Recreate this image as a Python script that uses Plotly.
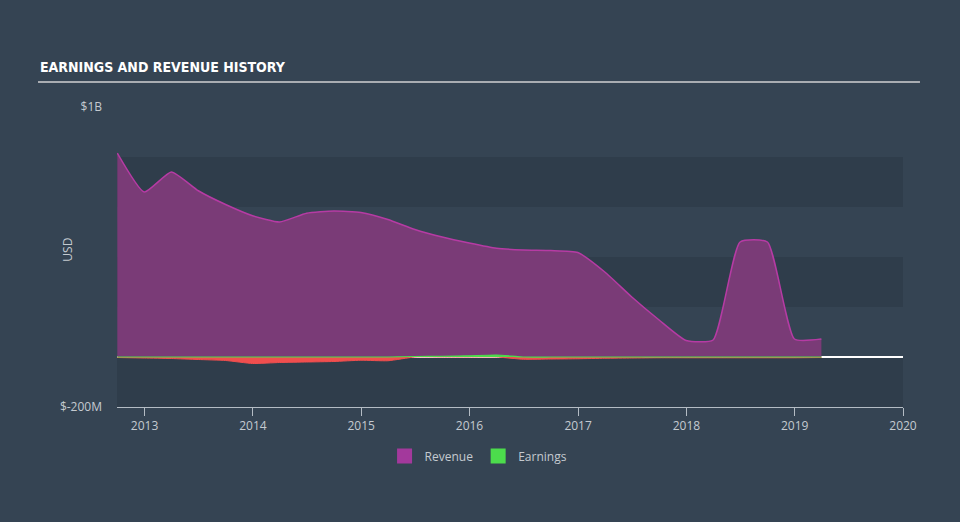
import plotly.graph_objects as go

dates = ["2012-10-01", "2012-12-31", "2013-04-01", "2013-07-01", "2013-10-01", "2013-12-31",
         "2014-04-01", "2014-07-01", "2014-10-01", "2014-12-31", "2015-04-01", "2015-07-01",
         "2015-10-01", "2015-12-31", "2016-04-01", "2016-07-01", "2016-10-01", "2016-12-31",
         "2017-04-01", "2017-07-01", "2017-10-01", "2017-12-31", "2018-04-01", "2018-07-01",
         "2018-10-01", "2018-12-31", "2019-04-01"]
revenue = [816, 660, 740, 665, 610, 565,
           540, 575, 584, 578, 550, 510,
           480, 456, 435, 428, 426, 418,
           340, 240, 148, 66, 68, 460,
           460, 72, 72]
earnings = [-2, -4, -6, -10, -14, -26,
            -22, -20, -18, -13, -15, 2,
            3, 5, 8, -9, -8, -7,
            -5, -4, -3, -3, -3, -3,
            -3, -3, -2]

earn_pos = [max(v, 0) for v in earnings]
earn_neg = [min(v, 0) for v in earnings]

BG = "#354453"
BAND = "#2f3d4b"
TXT = "#c4cad0"
REV_FILL = "#7a3b77"
REV_LINE = "#b63ba4"
RED = "#f04e4e"
GREEN = "#4cdc4c"

fig = go.Figure()
fig.add_trace(go.Scatter(x=dates, y=revenue, name="Revenue", mode="lines", showlegend=False,
                         line=dict(color=REV_LINE, width=1.5, shape="spline", smoothing=0.5),
                         fill="tozeroy", fillcolor=REV_FILL))
fig.add_trace(go.Scatter(x=dates, y=earn_neg, name="Earnings loss", mode="lines", showlegend=False,
                         line=dict(color=RED, width=1, shape="spline", smoothing=0.5),
                         fill="tozeroy", fillcolor=RED))
fig.add_trace(go.Scatter(x=dates, y=earn_pos, name="Earnings", mode="lines", showlegend=False,
                         line=dict(color=GREEN, width=1.2, shape="spline", smoothing=0.5),
                         fill="tozeroy", fillcolor=GREEN))
# legend swatches
fig.add_trace(go.Scatter(x=[None], y=[None], name="Revenue", mode="markers",
                         marker=dict(symbol="square", size=15, color="#a3399c")))
fig.add_trace(go.Scatter(x=[None], y=[None], name="Earnings", mode="markers",
                         marker=dict(symbol="square", size=15, color=GREEN)))

shapes = []
for lo, hi in [(-200, 0), (200, 400), (600, 800)]:
    shapes.append(dict(type="rect", xref="paper", yref="y", x0=0, x1=1, y0=lo, y1=hi,
                       fillcolor=BAND, line=dict(width=0), layer="below"))
shapes.append(dict(type="line", xref="paper", yref="paper", x0=-0.1005, x1=1.0216,
                   y0=1.0833, y1=1.0833, line=dict(color="#a9adb2", width=2)))

fig.update_layout(
    width=960, height=522,
    paper_bgcolor=BG, plot_bgcolor=BG,
    margin=dict(l=117, r=57, t=107, b=115),
    font=dict(family="Open Sans", color=TXT, size=12),
    shapes=shapes,
    showlegend=True,
    legend=dict(orientation="h", x=0.46, xanchor="center", y=-0.163, yanchor="middle",
                font=dict(size=12, color=TXT), bgcolor="rgba(0,0,0,0)", itemwidth=30),
    annotations=[
        dict(text="<b>EARNINGS AND REVENUE HISTORY</b>", xref="paper", yref="paper",
             x=-0.1005, y=1.133, xanchor="left", yanchor="middle", showarrow=False,
             font=dict(family="DejaVu Sans Condensed, Roboto", size=14, color="#ffffff")),
        dict(text="USD", xref="paper", yref="paper", x=-0.0763, y=0.523, textangle=-90,
             showarrow=False, font=dict(size=12, color=TXT)),
    ],
)
fig.update_xaxes(type="date", range=["2012-09-30", "2020-01-01"],
                 tickvals=["2013-01-01", "2014-01-01", "2015-01-01", "2016-01-01", "2017-01-01",
                           "2018-01-01", "2019-01-01", "2020-01-01"],
                 ticktext=["2013", "2014", "2015", "2016", "2017", "2018", "2019", "2020"],
                 showgrid=False, zeroline=False, showline=True, linecolor="#b4bcc4", linewidth=1,
                 ticks="outside", ticklen=8, tickcolor="#b4bcc4", tickfont=dict(size=12, color=TXT))
fig.update_yaxes(range=[-200, 1000], tickvals=[-200, 1000], ticktext=["$-200M", "$1B"],
                 showgrid=False, zeroline=True, zerolinecolor="#ffffff", zerolinewidth=1.5,
                 showline=False, ticks="", ticklabelstandoff=14, tickfont=dict(size=12, color=TXT))

fig.write_html("out.html")
